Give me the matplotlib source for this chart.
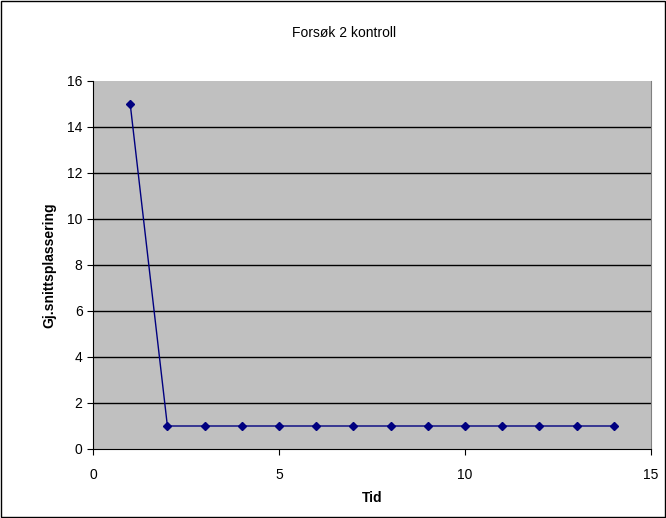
import matplotlib
matplotlib.use("Agg")
import matplotlib.pyplot as plt
from matplotlib.patches import Rectangle

plt.rcParams['font.family'] = ['Liberation Sans', 'DejaVu Sans']

tid = [1, 2, 3, 4, 5, 6, 7, 8, 9, 10, 11, 12, 13, 14]
plassering = [15, 1, 1, 1, 1, 1, 1, 1, 1, 1, 1, 1, 1, 1]
yticks = [0, 2, 4, 6, 8, 10, 12, 14, 16]
xticks = [0, 5, 10, 15]
title = "Forsøk 2 kontroll"
xlabel = "Tid"
ylabel = "Gj.snittsplassering"

fig = plt.figure(figsize=(6.66, 5.18), dpi=100)
ax = fig.add_axes([93/666, 1-449/518, (651-93)/666, (449-81)/518])
ax.set_facecolor('#C0C0C0')
for yv in yticks[1:-1]:
    ax.axhline(yv, color='black', linewidth=1, zorder=1)
ax.plot(tid, plassering, color='#000080', linewidth=1, marker='D', markersize=4,
        markerfacecolor='#000080', markeredgecolor='#000080', clip_on=False, zorder=3)
ax.set_xlim(0, 15)
ax.set_ylim(0, 16)
ax.set_xticks(xticks)
ax.set_yticks(yticks)
ax.spines['top'].set_visible(False)
ax.spines['right'].set_color('#808080')
ax.spines['left'].set_color('black')
ax.spines['bottom'].set_color('black')
ax.tick_params(axis='both', direction='out', length=4, labelsize=10, colors='black')
ax.tick_params(axis='x', pad=10)
ax.set_xlabel(xlabel, fontsize=10, fontweight='bold', labelpad=6)
ax.set_ylabel(ylabel, fontsize=10, fontweight='bold', labelpad=8)
fig.text(344/666, 1 - 33/518, title, ha='center', va='center', fontsize=10)
fig.patches.append(Rectangle((0.002, 0.002), 0.996, 0.996, transform=fig.transFigure,
                             fill=False, edgecolor='black', linewidth=1))
fig.savefig('out.png', dpi=100)
